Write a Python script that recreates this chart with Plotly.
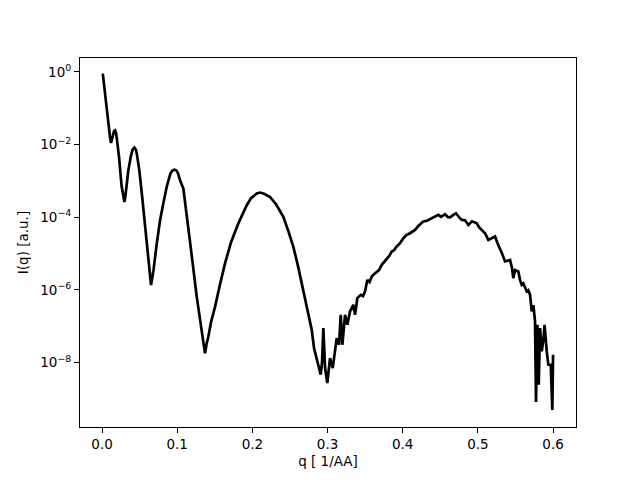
import plotly.graph_objects as go

q = [0.001, 0.0033, 0.0063, 0.0093, 0.0108, 0.0120, 0.0133, 0.0146, 0.0160, 0.0173,
     0.0186, 0.0200, 0.0226, 0.0259, 0.0285, 0.0297, 0.0308, 0.0319, 0.0350, 0.0386,
     0.0408, 0.0430, 0.0452, 0.0466, 0.0496, 0.0532, 0.0572, 0.0612, 0.0640, 0.0652,
     0.0665, 0.0685, 0.0728, 0.0772, 0.0815, 0.0865, 0.0911, 0.0935, 0.0962, 0.0988,
     0.1011, 0.1038, 0.1082, 0.1115, 0.1148, 0.1204, 0.1260, 0.1317, 0.1350, 0.1370,
     0.1390, 0.1414, 0.1450, 0.1503, 0.1570, 0.1636, 0.1716, 0.1813, 0.1925, 0.1982,
     0.2058, 0.2102, 0.2155, 0.2235, 0.2315, 0.2412, 0.2474, 0.2545, 0.2607, 0.2678,
     0.2740, 0.2790, 0.2820, 0.2856, 0.2877, 0.2909, 0.2927, 0.2944, 0.2967, 0.2997,
     0.3033, 0.3069, 0.3122, 0.3153, 0.3175, 0.3197, 0.3233, 0.3263, 0.3299, 0.3343,
     0.3366, 0.3396, 0.3442, 0.3472, 0.3499, 0.3529, 0.3559, 0.3588, 0.3618, 0.3654,
     0.3685, 0.3721, 0.3751, 0.3787, 0.3818, 0.3854, 0.3884, 0.3920, 0.3964, 0.4008,
     0.4053, 0.4097, 0.4131, 0.4164, 0.4217, 0.4274, 0.4323, 0.4386, 0.4430, 0.4474,
     0.4510, 0.4563, 0.4603, 0.4630, 0.4669, 0.4709, 0.4749, 0.4785, 0.4829, 0.4873,
     0.4922, 0.4985, 0.5015, 0.5051, 0.5095, 0.5139, 0.5175, 0.5228, 0.5261, 0.5294,
     0.5321, 0.5361, 0.5405, 0.5428, 0.5454, 0.5471, 0.5494, 0.5538, 0.5561, 0.5583,
     0.5605, 0.5650, 0.5671, 0.5694, 0.5716, 0.5738, 0.5760, 0.5773, 0.5791, 0.5809,
     0.5827, 0.5849, 0.5871, 0.5887, 0.5916, 0.5937, 0.5969, 0.5990, 0.6000]

intensity = [0.89, 0.31, 0.107, 2.8e-2, 1.5e-2, 1.1e-2, 1.5e-2, 2.03e-2, 2.35e-2, 2.45e-2,
             2.1e-2, 1.30e-2, 4.54e-3, 7.57e-4, 3.3e-4, 2.63e-4, 3.4e-4, 5.52e-4, 1.95e-3, 5.05e-3,
             7.3e-3, 8.22e-3, 7.2e-3, 5.05e-3, 1.95e-3, 4.02e-4, 5.42e-5, 7.48e-6, 2.2e-6, 1.36e-6,
             2.0e-6, 3.50e-6, 1.89e-5, 8.28e-5, 2.38e-4, 7.57e-4, 1.62e-3, 1.9e-3, 2.04e-3, 1.95e-3,
             1.62e-3, 1.04e-3, 6.14e-4, 1.88e-4, 4.40e-5, 5.81e-6, 6.46e-7, 8.93e-8, 3.0e-8, 1.80e-8,
             3.2e-8, 5.15e-8, 1.30e-7, 3.43e-7, 1.44e-6, 5.35e-6, 2.06e-5, 6.71e-5, 2.14e-4, 3.33e-4,
             4.48e-4, 4.77e-4, 4.42e-4, 3.61e-4, 2.28e-4, 1.02e-4, 4.40e-5, 1.53e-5, 4.51e-6, 9.88e-7,
             2.79e-7, 7.87e-8, 2.52e-8, 1.18e-8, 8.75e-9, 4.66e-9, 1.04e-8, 8.93e-8, 7.11e-9, 2.75e-9,
             1.34e-8, 7.11e-9, 4.74e-8, 3.10e-8, 2.07e-7, 3.10e-8, 2.07e-7, 1.10e-7, 2.57e-7, 3.90e-7,
             2.07e-7, 5.95e-7, 7.33e-7, 6.76e-7, 9.10e-7, 1.89e-6, 1.64e-6, 2.35e-6, 2.72e-6, 3.22e-6,
             3.50e-6, 4.90e-6, 5.81e-6, 7.48e-6, 8.49e-6, 1.14e-5, 1.24e-5, 1.57e-5, 1.93e-5, 2.65e-5,
             3.27e-5, 3.63e-5, 4.12e-5, 4.48e-5, 6.03e-5, 7.62e-5, 8.02e-5, 9.39e-5, 1.06e-4, 1.16e-4,
             1.03e-4, 1.21e-4, 1.00e-4, 9.9e-5, 1.14e-4, 1.29e-4, 1.00e-4, 8.43e-5, 8.28e-5, 6.14e-5,
             7.76e-5, 6.84e-5, 5.31e-5, 4.48e-5, 3.63e-5, 2.38e-5, 2.65e-5, 2.95e-5, 1.93e-5, 1.41e-5,
             1.01e-5, 6.07e-6, 6.59e-6, 6.64e-6, 3.97e-6, 2.11e-6, 3.50e-6, 3.22e-6, 1.86e-6, 1.38e-6,
             1.51e-6, 9.10e-7, 9.88e-7, 7.33e-7, 2.57e-7, 3.82e-7, 1.36e-7, 8.28e-10, 1.10e-7, 2.47e-9,
             8.93e-8, 2.04e-8, 4.18e-8, 1.10e-7, 2.04e-8, 8.75e-9, 8.75e-9, 4.99e-10, 1.65e-8]

x_ticks = [0.0, 0.1, 0.2, 0.3, 0.4, 0.5, 0.6]
y_ticks = [1, 1e-2, 1e-4, 1e-6, 1e-8]
y_tick_text = ["10<sup>0</sup>", "10<sup>−2</sup>", "10<sup>−4</sup>", "10<sup>−6</sup>", "10<sup>−8</sup>"]

font = dict(family="DejaVu Sans", size=13.5, color="black")

fig = go.Figure(go.Scatter(x=q, y=intensity, mode="lines",
                           line=dict(color="black", width=2.7)))

# the page body has an 8px margin, so the figure is drawn 8px right/down
fig.update_layout(
    width=632, height=472,
    margin=dict(l=72, r=64, t=50, b=53, autoexpand=False),
    paper_bgcolor="white", plot_bgcolor="white",
    showlegend=False,
    font=font,
)
fig.update_xaxes(
    range=[-0.0293, 0.6305], tickvals=x_ticks, ticktext=[f"{v:.1f}" for v in x_ticks],
    showline=True, linecolor="black", linewidth=1, mirror=True,
    ticks="outside", ticklen=5, tickwidth=1, tickcolor="black",
    showgrid=False, zeroline=False, automargin=False,
    title=dict(text="q [ 1/AA]", font=font, standoff=5),
)
fig.update_yaxes(
    type="log", range=[-9.77, 0.38], tickvals=y_ticks, ticktext=y_tick_text,
    showline=True, linecolor="black", linewidth=1, mirror=True,
    ticks="outside", ticklen=5, tickwidth=1, tickcolor="black",
    showgrid=False, zeroline=False, automargin=False,
    title=dict(text="I(q) [a.u.]", font=font, standoff=8),
)

fig.write_html("out.html")
